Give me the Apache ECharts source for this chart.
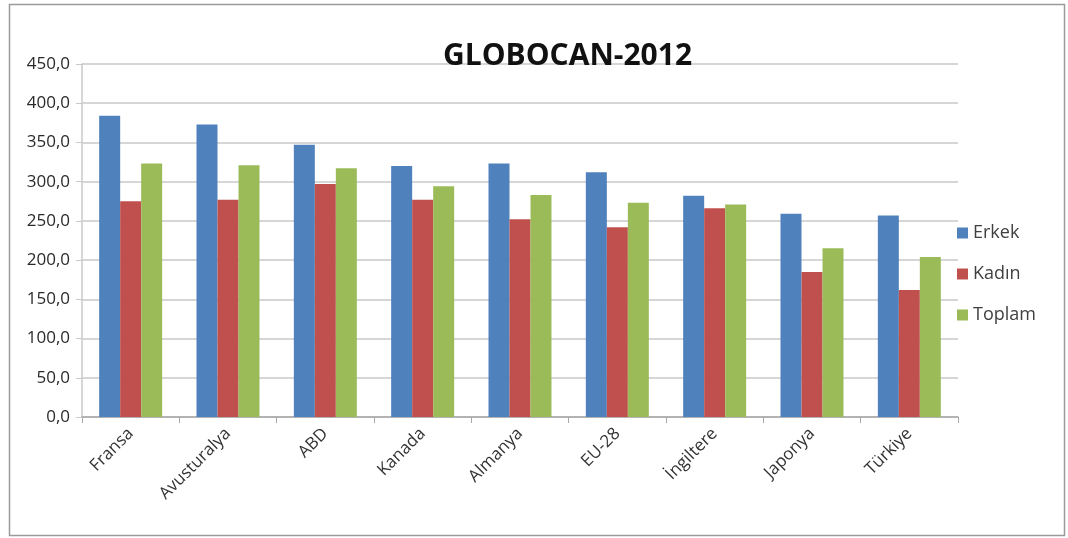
<!DOCTYPE html>
<html>
<head>
<meta charset="utf-8">
<script src="https://cdn.jsdelivr.net/npm/echarts@6/dist/echarts.min.js"></script>
<style>
  html, body { margin: 0; padding: 0; background: #fff; }
  #chart { width: 1068px; height: 538px; }
</style>
</head>
<body>
<div id="chart"></div>
<script>
var countries = ['Fransa', 'Avusturalya', 'ABD', 'Kanada', 'Almanya', 'EU-28', 'İngiltere', 'Japonya', 'Türkiye'];
var erkek = [384, 373, 347, 320, 323, 312, 282, 259, 257];
var kadin = [275, 277, 297, 277, 252, 242, 266, 185, 162];
var toplam = [323, 321, 317, 294, 283, 273, 271, 215, 204];
var yTicks = [0, 50, 100, 150, 200, 250, 300, 350, 400, 450];

var chart = echarts.init(document.getElementById('chart'));
var font = '"Open Sans", "DejaVu Sans", sans-serif';

function barSeries(name, data, color) {
  return {
    name: name,
    type: 'bar',
    data: data,
    barWidth: 21,
    barGap: '0%',
    itemStyle: { color: color },
    emphasis: { disabled: true }
  };
}

var option = {
  backgroundColor: '#ffffff',
  animation: false,
  title: {
    text: 'GLOBOCAN-2012',
    left: 438,
    top: 36,
    textStyle: { fontFamily: font, fontSize: 30, fontWeight: 'bold', color: '#111' }
  },
  graphic: [{
    type: 'rect',
    shape: { x: 9.5, y: 4.5, width: 1055, height: 531 },
    style: { fill: null, stroke: '#9a9a9a', lineWidth: 1.5 },
    silent: true
  }],
  legend: {
    orient: 'vertical',
    left: 952,
    top: 219,
    itemWidth: 11,
    itemHeight: 11,
    itemGap: 23,
    icon: 'rect',
    textStyle: { fontFamily: font, fontSize: 18, color: '#404040' },
    data: ['Erkek', 'Kadın', 'Toplam']
  },
  grid: { left: 82, right: 110, top: 64, bottom: 121 },
  xAxis: {
    type: 'category',
    data: countries,
    axisLine: { lineStyle: { color: '#a8a8a8', width: 1.5 } },
    axisTick: { show: true, alignWithLabel: false, length: 6, lineStyle: { color: '#a8a8a8' } },
    axisLabel: {
      rotate: 45,
      margin: 14,
      fontFamily: font,
      fontSize: 17,
      color: '#333'
    }
  },
  yAxis: {
    type: 'value',
    min: 0,
    max: 450,
    interval: 50,
    axisLine: { show: true, lineStyle: { color: '#c8c8c8', width: 1.5 } },
    axisTick: { show: true, length: 6, lineStyle: { color: '#c8c8c8' } },
    splitLine: { lineStyle: { color: '#c8c8c8', width: 1.5 } },
    axisLabel: {
      margin: 12,
      fontFamily: font,
      fontSize: 17,
      color: '#2a2a2a',
      formatter: function (v) { return yTicks.indexOf(v) >= 0 ? v.toFixed(1).replace('.', ',') : ''; }
    }
  },
  series: [
    barSeries('Erkek', erkek, '#4f81bd'),
    barSeries('Kadın', kadin, '#c0504d'),
    barSeries('Toplam', toplam, '#9bbb59')
  ]
};

chart.setOption(option);
</script>
</body>
</html>
